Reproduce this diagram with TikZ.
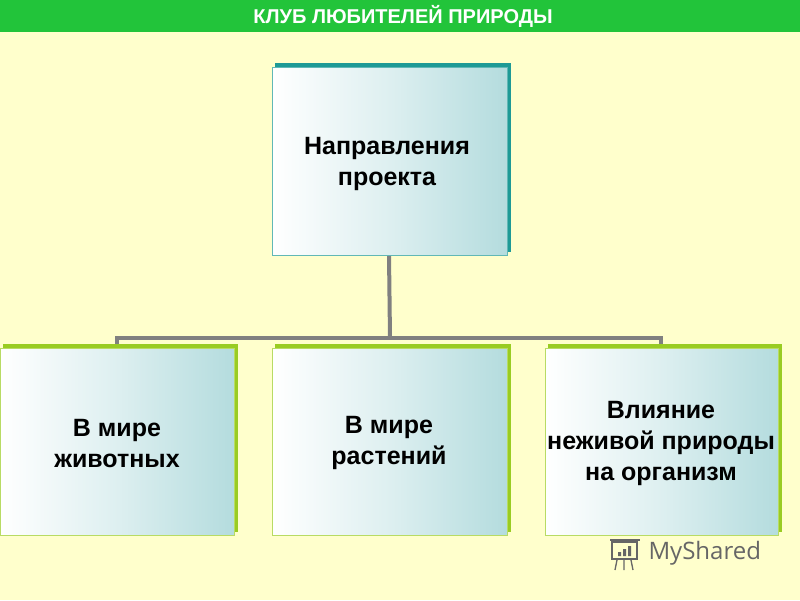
\documentclass[tikz,border=0pt]{standalone}
\usepackage{fontspec}
\setmainfont{Liberation Sans}
\newfontfamily\logofont{Open Sans}
\definecolor{bg}{HTML}{FFFFCC}
\definecolor{bar}{HTML}{22C43A}
\definecolor{teal}{HTML}{1E9A96}
\definecolor{lgreen}{HTML}{99CC22}
\definecolor{tint}{HTML}{B4DCDE}
\definecolor{conn}{HTML}{808080}
\begin{document}
\begin{tikzpicture}[x=1pt,y=-1pt,
  boxtext/.style={font=\bfseries\fontsize{25}{31}\selectfont,align=center},
  conline/.style={draw=conn,line width=4pt}]
\useasboundingbox (0,0) rectangle (800,600);
\fill[bg] (0,0) rectangle (800,600);
\fill[bar] (0,0) rectangle (800,32);
\node[text=white,font=\bfseries\fontsize{20}{24}\selectfont] (title) at (403,16) {КЛУБ ЛЮБИТЕЛЕЙ ПРИРОДЫ};
% connectors
\coordinate (j0) at (390,338);
\coordinate (j1) at (117,338);
\coordinate (j3) at (661,338);
\draw[conline] (389,255) -- (j0);
\draw[conline,line cap=rect] (j1) -- (j3);
\draw[conline] (j1) -- (117,346);
\draw[conline] (j3) -- (661,346);
% boxes
\newcommand{\gbox}[5]{%
  \fill[#5] (#1+3,#2-4) rectangle (#3+4,#4-3);
  \shade[shading angle=-30,left color=white,right color=tint,middle color=tint!45!white] (#1,#2) rectangle (#3,#4);
  \draw[#5!70!white,line width=0.8pt] (#1,#2) rectangle (#3,#4);}
\gbox{272}{67}{507}{255}{teal}
\gbox{0}{348}{234}{535}{lgreen}
\gbox{272}{348}{507}{535}{lgreen}
\gbox{545}{348}{778}{535}{lgreen}
\node[boxtext] (top) at (387,164) {Направления\\проекта};
\node[boxtext] (b1) at (117,444) {В мире\\животных};
\node[boxtext] (b2) at (389,443) {В мире\\растений};
\node[boxtext] (b3) at (661,443) {Влияние\\неживой природы\\на организм};
% logo
\begin{scope}[draw=gray!80!black,line width=1.3pt]
\draw (612,542) rectangle (637,559);
\draw (610,540) -- (640,540);
\draw (617,560) -- (615,570) (624,560) -- (624,570) (631,560) -- (633,570);
\fill[gray!80!black] (618,552) rectangle (621,556) (623,549) rectangle (626,556) (628,546) rectangle (631,556);
\end{scope}
\node[text=gray!80!black,font=\logofont\fontsize{24}{28}\selectfont,anchor=west] (logo) at (645,553) {MyShared};
\end{tikzpicture}
\end{document}
